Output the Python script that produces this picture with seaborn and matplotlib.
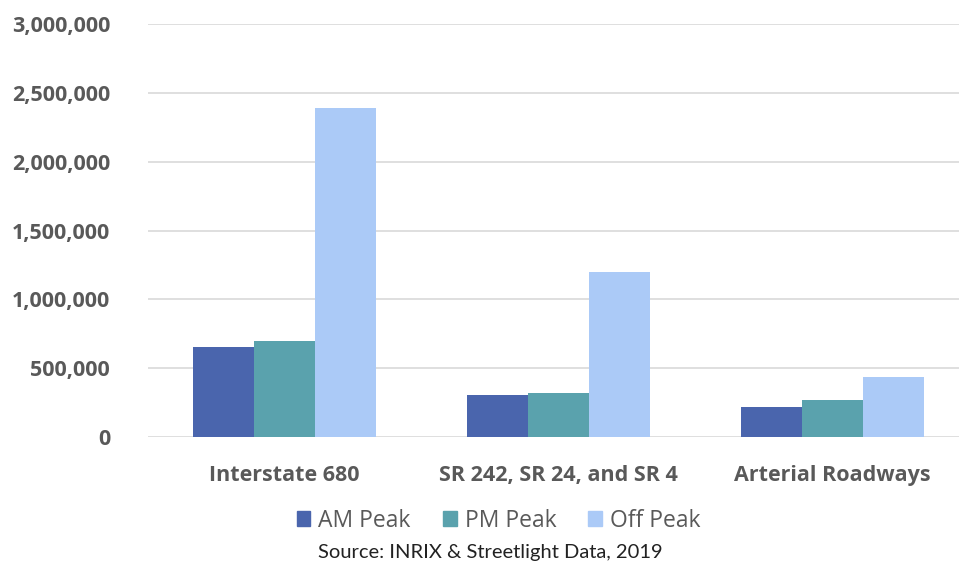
import pandas as pd
import matplotlib.pyplot as plt
import matplotlib.ticker as mticker
import seaborn as sns

# =========================
# Data
# =========================

roads = ["Interstate 680", "SR 242, SR 24, and SR 4", "Arterial Roadways"]
periods = ["AM Peak", "PM Peak", "Off Peak"]

am_peak = [657000, 303000, 220000]
pm_peak = [700000, 320000, 267000]
off_peak = [2392000, 1200000, 438000]

colors = ["#4a65ad", "#5aa2ad", "#abcaf7"]

df = pd.DataFrame({
    "road": roads * 3,
    "period": [p for p in periods for _ in roads],
    "trips": am_peak + pm_peak + off_peak,
})

# =========================
# Plot
# =========================

sns.set_style("white")
plt.rcParams["font.family"] = ["Open Sans", "DejaVu Sans"]

fig = plt.figure(figsize=(9.59, 5.64), dpi=100)
ax = fig.add_axes([0.154, 0.225, 0.857, 0.732])

sns.barplot(data=df, x="road", y="trips", hue="period", hue_order=periods,
            palette=colors, width=0.667, gap=0, saturation=1, ax=ax,
            legend=False, edgecolor="none")

ax.set_xlim(-0.5, 2.5)
ax.set_ylim(0, 3000000)
ax.set_yticks(range(0, 3000001, 500000))
ax.yaxis.set_major_formatter(mticker.FuncFormatter(lambda v, p: f"{int(v):,}"))
ax.grid(axis="y", color="#d9d9d9", linewidth=1.2)
ax.set_axisbelow(True)
sns.despine(ax=ax, left=True, bottom=True)
ax.set_xlabel("")
ax.set_ylabel("")
ax.tick_params(axis="both", length=0)
ax.tick_params(axis="y", pad=27)
ax.tick_params(axis="x", pad=20)
for lbl in ax.get_yticklabels() + ax.get_xticklabels():
    lbl.set_fontweight("bold")
    lbl.set_color("#595959")
    lbl.set_fontsize(15.5)

handles = [plt.Rectangle((0, 0), 1, 1, color=c) for c in colors]
fig.legend(handles, periods, loc="center", bbox_to_anchor=(0.52, 0.077),
           ncol=3, frameon=False, fontsize=16.5, handlelength=0.6,
           handleheight=0.6, handletextpad=0.35, columnspacing=1.4,
           labelcolor="#595959")

fig.text(0.511, 0.021, "Source: INRIX & Streetlight Data, 2019",
         ha="center", va="center", fontsize=14.5, color="#222222",
         family=["Lato", "DejaVu Sans"])

fig.savefig("out.png", dpi=100)
